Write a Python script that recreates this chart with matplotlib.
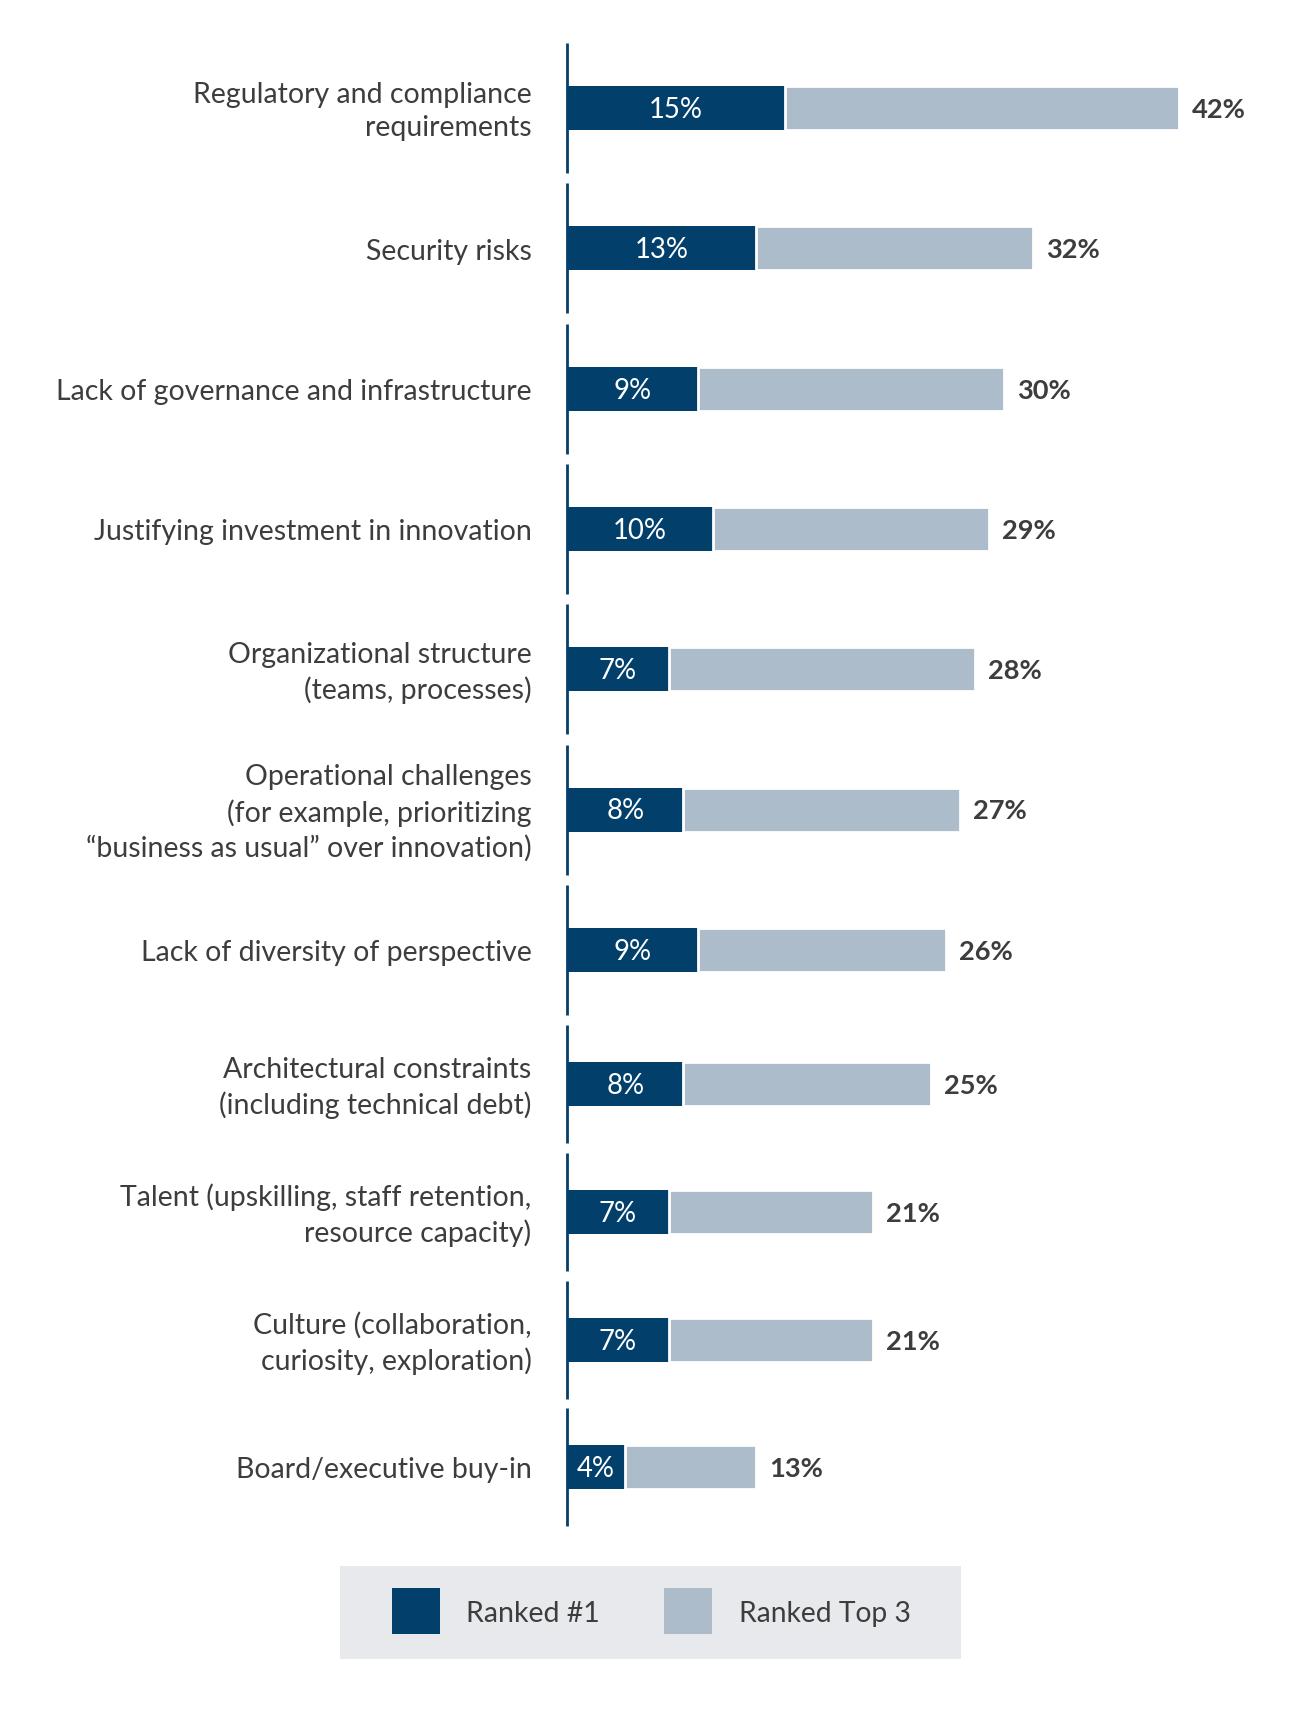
import matplotlib
matplotlib.use("Agg")
import matplotlib.pyplot as plt
import numpy as np
from matplotlib.patches import Rectangle

plt.rcParams['font.family'] = ['Lato', 'DejaVu Sans']

# data
categories = [
    "Regulatory and compliance\nrequirements",
    "Security risks",
    "Lack of governance and infrastructure",
    "Justifying investment in innovation",
    "Organizational structure\n(teams, processes)",
    "Operational challenges\n(for example, prioritizing\n\u201cbusiness as usual\u201d over innovation)",
    "Lack of diversity of perspective",
    "Architectural constraints\n(including technical debt)",
    "Talent (upskilling, staff retention,\nresource capacity)",
    "Culture (collaboration,\ncuriosity, exploration)",
    "Board/executive buy-in",
]
ranked_1 = [15, 13, 9, 10, 7, 8, 9, 8, 7, 7, 4]
ranked_top3 = [42, 32, 30, 29, 28, 27, 26, 25, 21, 21, 13]
legend_labels = ["Ranked #1", "Ranked Top 3"]

DARK = '#02406b'
LIGHT = '#adbccb'
TEXT = '#3d3d3d'

# layout (pixels): the rows are not evenly spaced in the original
W, H = 1300, 1733
axis_x = 567
px_per_pct = 14.56
first_row = 109
row_pitch = [140.3] * 6 + [134.5, 127.5, 128, 127]
seg_half = np.array([65] * 7 + [59] * 4)
bar_h = 44

y_pos = first_row + np.concatenate([[0], np.cumsum(row_pitch)])

fig = plt.figure(figsize=(W / 100, H / 100), dpi=100)
ax = fig.add_axes([0, 0, 1, 1])
ax.set_xlim(-axis_x / px_per_pct, (W - axis_x) / px_per_pct)
ax.set_ylim(H, 0)
ax.axis('off')

ax.barh(y_pos, ranked_1, height=bar_h, color=DARK, zorder=2)
light_w = np.array(ranked_top3) - np.array(ranked_1)
ax.barh(y_pos, light_w, left=ranked_1, height=bar_h, color=LIGHT,
        edgecolor='white', linewidth=2.0, zorder=2)

# one short axis segment per row
ax.vlines(np.zeros(len(y_pos)), y_pos - seg_half, y_pos + seg_half,
          color=DARK, linewidth=2.0, zorder=3)

for i, cat in enumerate(categories):
    ax.annotate(cat, xy=(0, y_pos[i]), xytext=(-25.5, -1.8), textcoords='offset points',
                ha='right', va='center', fontsize=20.5, color=TEXT, linespacing=1.38)
    ax.annotate('{}%'.format(ranked_1[i]), xy=(ranked_1[i] / 2, y_pos[i]),
                xytext=(0, -0.7), textcoords='offset points', ha='center',
                va='center', fontsize=19.8, color='white', zorder=4)
    ax.annotate('{}%'.format(ranked_top3[i]), xy=(ranked_top3[i], y_pos[i]),
                xytext=(9.5, -0.7), textcoords='offset points', ha='left', va='center',
                fontsize=19.6, fontweight='bold', color=TEXT)

# legend box drawn in pixel coordinates
lax = fig.add_axes([0, 0, 1, 1], facecolor='none')
lax.set_xlim(0, W)
lax.set_ylim(H, 0)
lax.axis('off')
lax.add_patch(Rectangle((340, 1567), 621, 93, color='#e8e9ec', lw=0))
lax.add_patch(Rectangle((392, 1589), 48, 46, color=DARK, lw=0))
lax.add_patch(Rectangle((664, 1589), 48, 46, color=LIGHT, lw=0))
lax.text(466, 1614, legend_labels[0], ha='left', va='center', fontsize=20.5, color=TEXT)
lax.text(739, 1614, legend_labels[1], ha='left', va='center', fontsize=20.3, color=TEXT)

fig.savefig('out.png', dpi=100, facecolor='white')
